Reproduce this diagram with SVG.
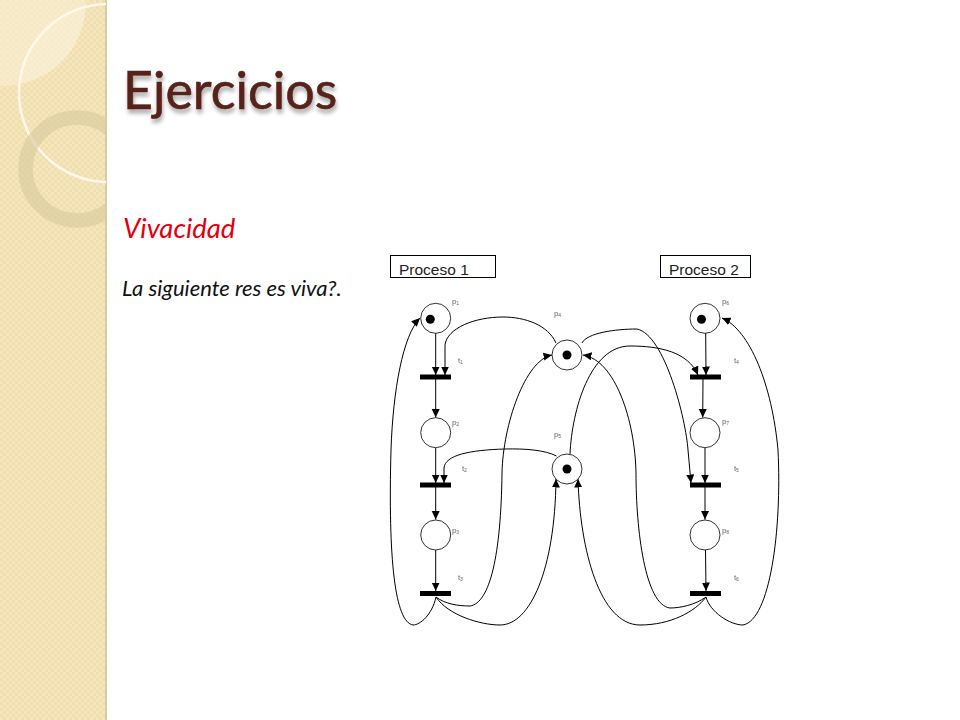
<svg xmlns="http://www.w3.org/2000/svg" width="960" height="720" viewBox="0 0 960 720">
<defs>
<style>
.c{fill:none;stroke:#000;stroke-width:1}
.a{marker-end:url(#h)}
.p{fill:#fff;stroke:#000;stroke-width:.8}
.t{fill:#000}
.l{font-family:"Liberation Sans",Arial,sans-serif;font-size:7.500px;fill:#666}
.l tspan{font-size:5px}
.b{fill:#fff;stroke:#000;stroke-width:1}
.bt{font-family:"Liberation Sans",Arial,sans-serif;font-size:15.500px;fill:#222}
.deco{fill:none}
</style>
<marker id="h" markerUnits="userSpaceOnUse" markerWidth="10" markerHeight="10" refX="8.500" refY="4" orient="auto"><path d="M0 0L8.500 4L0 8Z" fill="#000"/></marker>
<pattern id="w" width="6" height="6" patternUnits="userSpaceOnUse"><rect width="6" height="6" fill="#f6e6bd"/><rect width="3" height="3" fill="#f1deaf"/><rect x="3" y="3" width="3" height="3" fill="#f1deaf"/></pattern>
<filter id="s" x="-10%" y="-20%" width="120%" height="150%"><feGaussianBlur in="SourceAlpha" stdDeviation="2"/><feOffset dx="1" dy="4"/><feComponentTransfer><feFuncA type="linear" slope=".35"/></feComponentTransfer><feMerge><feMergeNode/><feMergeNode in="SourceGraphic"/></feMerge></filter>
<clipPath id="side"><rect width="106" height="720"/></clipPath>
<clipPath id="quarter"><path d="M0 0H86C86 50 50 86 0 86Z"/></clipPath>
</defs>
<rect width="960" height="720" fill="#fff"/>
<g id="background">
<rect width="106" height="720" fill="url(#w)"/>
<rect x="105" width="2" height="720" fill="#d9cba6"/>
<g clip-path="url(#side)">
<path d="M0 0H86C86 50 50 86 0 86Z" fill="#fbf3de" fill-opacity=".45"/>
<circle cx="108" cy="93" r="88" clip-path="url(#quarter)" fill="#fbf3de" fill-opacity=".25"/>
<circle cx="108" cy="93" r="89" class="deco" stroke="#fdf8ea" stroke-width="2.500"/>
<circle cx="77" cy="169" r="51.500" class="deco" stroke="#d9c89b" stroke-opacity=".6" stroke-width="14.500"/>
</g>
</g>
<text x="123" y="109" font-family="'Lato','Open Sans',sans-serif" font-size="52" fill="#58231a" stroke="#58231a" stroke-width=".6" filter="url(#s)">Ejercicios</text>
<text x="123" y="238" font-family="'Lato','Open Sans',sans-serif" font-style="italic" font-size="27.500" fill="#e2000f">Vivacidad</text>
<text x="122" y="296" font-family="'Lato','Open Sans',sans-serif" font-style="italic" font-size="22" fill="#111">La siguiente res es viva?.</text>

<g id="connectors">
<path class="c a" d="M435.700 333V375"/>
<path class="c a" d="M435.700 379V417.500"/>
<path class="c a" d="M435.700 448V483"/>
<path class="c a" d="M435.700 487V519.500"/>
<path class="c a" d="M435.700 550V591"/>
<path class="c a" d="M556 343C548 325 525 317 503 317C475 317 447 328 445 345V375"/>
<path class="c a" d="M556.500 456C545 450 525 448.500 505 449C470 450 445 455 444 468V483"/>
<path class="c a" d="M436 597C432 615 420 625 413 625C395 622 388 560 391 450C393 390 403 335 420 318"/>
<path class="c a" d="M436 597C445 604 458 606 470 606C490 603 501 555 502 473C503 425 525 360 552 355"/>
<path class="c a" d="M436 597C448 615 480 625 500 625C530 625 555 570 556 479"/>
<path class="c a" d="M706 597C695 612 670 625 640 625C600 625 580 550 578 479"/>
<path class="c a" d="M706 597C695 605 680 608 670 608C645 605 636 530 636 473C635 420 615 360 583 355"/>
<path class="c a" d="M706 597C710 612 730 625 743 625C770 620 782 530 778 450C772 385 750 330 722 318"/>
<path class="c a" d="M582 343C587 333 615 329 637 329C665 335 686 420 688 450L691 483"/>
<path class="c a" d="M570 454C572 410 590 346 630 346C660 346 688 352 698 375"/>
<path class="c a" d="M705.700 333L706 375"/>
<path class="c a" d="M703 379L702.700 417.500"/>
<path class="c a" d="M705 448V483"/>
<path class="c a" d="M705 487V519.500"/>
<path class="c a" d="M705.500 550L706 591"/>
</g>

<g id="proceso1"><rect class="b" x="390.500" y="255.500" width="105" height="22"/><text class="bt" x="399" y="275">Proceso 1</text></g>
<g id="proceso2"><rect class="b" x="660.500" y="255.500" width="90" height="22"/><text class="bt" x="669" y="275">Proceso 2</text></g>

<g id="p1"><circle class="p" cx="435.700" cy="318.300" r="15"/><circle class="t" cx="430.300" cy="319.300" r="4.500"/><text class="l" x="452" y="304">p<tspan dy="1">1</tspan></text></g>
<g id="p2"><circle class="p" cx="435.700" cy="432.700" r="15"/><text class="l" x="452" y="425">p<tspan dy="1">2</tspan></text></g>
<g id="p3"><circle class="p" cx="435.700" cy="535" r="15"/><text class="l" x="452" y="533">p<tspan dy="1">3</tspan></text></g>
<g id="p4"><circle class="p" cx="567" cy="355" r="15"/><circle class="t" cx="567" cy="355" r="4.500"/><text class="l" x="554" y="316">p<tspan dy="1">4</tspan></text></g>
<g id="p5"><circle class="p" cx="567" cy="469" r="15"/><circle class="t" cx="567" cy="469" r="4.500"/><text class="l" x="554" y="437">p<tspan dy="1">5</tspan></text></g>
<g id="p6"><circle class="p" cx="705" cy="318.300" r="15"/><circle class="t" cx="701.500" cy="319.300" r="4.500"/><text class="l" x="722" y="304">p<tspan dy="1">6</tspan></text></g>
<g id="p7"><circle class="p" cx="705" cy="432.700" r="15"/><text class="l" x="722" y="424">p<tspan dy="1">7</tspan></text></g>
<g id="p8"><circle class="p" cx="705" cy="535" r="15"/><text class="l" x="722" y="533">p<tspan dy="1">8</tspan></text></g>

<g id="t1"><rect class="t" x="420" y="374.500" width="31" height="5"/><text class="l" x="458" y="363">t<tspan dy="1">1</tspan></text></g>
<g id="t2"><rect class="t" x="420" y="482.500" width="31" height="5"/><text class="l" x="462" y="471">t<tspan dy="1">2</tspan></text></g>
<g id="t3"><rect class="t" x="420" y="591" width="31" height="5"/><text class="l" x="458" y="580">t<tspan dy="1">3</tspan></text></g>
<g id="t4"><rect class="t" x="690" y="374.500" width="31" height="5"/><text class="l" x="734" y="363">t<tspan dy="1">4</tspan></text></g>
<g id="t5"><rect class="t" x="690" y="482.500" width="31" height="5"/><text class="l" x="734" y="471">t<tspan dy="1">5</tspan></text></g>
<g id="t6"><rect class="t" x="690" y="591" width="31" height="5"/><text class="l" x="734" y="580">t<tspan dy="1">6</tspan></text></g>
</svg>
